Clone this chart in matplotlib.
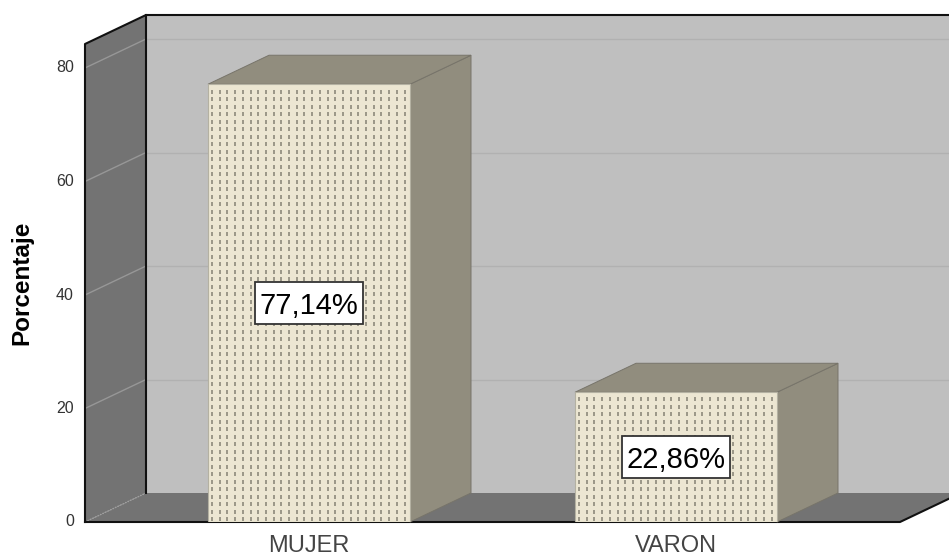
import numpy as np
import matplotlib
matplotlib.use("Agg")
import matplotlib.pyplot as plt
from matplotlib.patches import Polygon, Rectangle
from matplotlib.transforms import ScaledTranslation

plt.rcParams['font.family'] = ['Liberation Sans', 'DejaVu Sans']

categories = ["MUJER", "VARON"]
values = [77.14, 22.86]
labels = ["77,14%", "22,86%"]
yticks = [0, 20, 40, 60, 80]

# axes box is the front plane of the 3d chart
W, H = 949, 555
LEFT, RIGHT, BOTTOM, TOP = 85, 900, 522, 44
PX_X = 367.0
PX_Y = 5.675
DX = 61 / PX_X
DY = 29 / PX_Y
BAR_W = 202 / PX_X
XMIN = (LEFT - 309) / PX_X
XMAX = (RIGHT - 309) / PX_X
YMAX = (BOTTOM - TOP) / PX_Y

fig = plt.figure(figsize=(W / 100, H / 100), dpi=100, facecolor="white")
ax = fig.add_axes([LEFT / W, 1 - BOTTOM / H, (RIGHT - LEFT) / W, (BOTTOM - TOP) / H])
ax.set_xlim(XMIN, XMAX)
ax.set_ylim(0, YMAX)
ax.patch.set_visible(False)
for s in ax.spines.values():
    s.set_visible(False)


def poly(pts, fc, ec="none", lw=0.0, z=1):
    ax.add_patch(Polygon(pts, closed=True, fc=fc, ec=ec, lw=lw, zorder=z, clip_on=False))


# back wall, side wall, floor
poly([(XMIN + DX, DY), (XMAX + DX, DY), (XMAX + DX, YMAX + DY), (XMIN + DX, YMAX + DY)], "#bfbfbf")
poly([(XMIN, 0), (XMIN + DX, DY), (XMIN + DX, YMAX + DY), (XMIN, YMAX)], "#737373")
poly([(XMIN, 0), (XMAX, 0), (XMAX + DX, DY), (XMIN + DX, DY)], "#737373")

# gridlines on walls
for t in yticks[1:]:
    ax.plot([XMIN, XMIN + DX], [t, t + DY], color="#979797", lw=1, zorder=2, clip_on=False)
    ax.plot([XMIN + DX, XMAX + DX], [t + DY, t + DY], color="#b1b1b1", lw=1, zorder=2, clip_on=False)
ax.plot([XMIN, XMIN + DX], [0, DY], color="#a0a0a0", lw=1, ls=(0, (1, 1)), zorder=2)

# wall outlines
ax.plot([XMIN, XMIN, XMIN + DX, XMAX + DX], [0, YMAX, YMAX + DY, YMAX + DY], color="#111111", lw=1.5, zorder=3, clip_on=False)
ax.plot([XMIN + DX, XMIN + DX], [DY, YMAX + DY], color="#111111", lw=1.5, zorder=3, clip_on=False)
ax.plot([XMIN, XMAX, XMAX + DX], [0, 0, DY], color="#111111", lw=1.5, zorder=3, clip_on=False)

# bars
for i, v in enumerate(values):
    l, r = i - BAR_W / 2, i + BAR_W / 2
    poly([(r, 0), (r + DX, DY), (r + DX, v + DY), (r, v)], "#918d7e", "#77746a", 0.7, 4)
    poly([(l, v), (r, v), (r + DX, v + DY), (l + DX, v + DY)], "#918d7e", "#77746a", 0.7, 4)
    ax.bar(i, v, width=BAR_W, color="#ece6d2", edgecolor="#b4b1a2", lw=0.8, zorder=5)
    # dotted fill texture
    gx = np.arange(l + 4 / PX_X, r, 7.7 / PX_X)
    gy = np.arange(3 / PX_Y, v, 7.5 / PX_Y)
    mx, my = np.meshgrid(gx, gy)
    ax.plot(mx.ravel(), my.ravel(), ls="none", marker="|", ms=2.6, mew=1.2, color="#8c897b", zorder=6)
    # label box
    bw, bh = 108 / PX_X, 42 / PX_Y
    ax.add_patch(Rectangle((i - bw / 2, v / 2 - bh / 2), bw, bh, fc="white", ec="#333333", lw=1.3, zorder=7))
    ax.text(i, v / 2, labels[i], ha="center", va="center_baseline", fontsize=21, color="black", zorder=8)

ax.set_xticks(range(len(categories)))
ax.set_xticklabels(categories, fontsize=17, color="#444444")
ax.set_yticks(yticks)
ax.tick_params(axis="x", length=0, pad=9)
ax.tick_params(axis="y", length=0, pad=8, labelsize=11.5, labelcolor="#333333")
up = ScaledTranslation(0, 1.5 / 100, fig.dpi_scale_trans)
for lab in ax.get_yticklabels():
    lab.set_transform(lab.get_transform() + up)
ax.set_ylabel("Porcentaje", fontsize=17.5, fontweight="bold", color="black")
ax.yaxis.set_label_coords(-(85 - 33) / (RIGHT - LEFT), 0.5)

fig.savefig("out.png", dpi=100)
